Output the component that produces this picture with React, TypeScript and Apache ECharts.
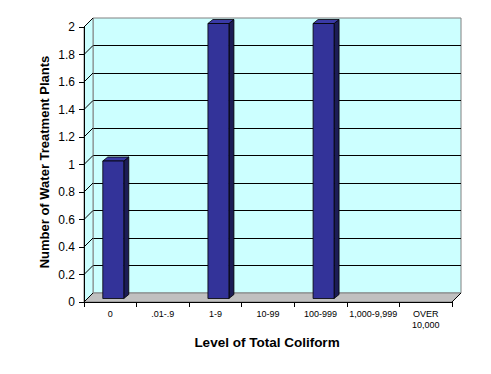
import React, { useEffect, useRef } from "react";
import * as echarts from "echarts";

const categories = ["0", ".01-.9", "1-9", "10-99", "100-999", "1,000-9,999", "OVER\n10,000"];
const plantCounts = [1, 0, 2, 0, 2, 0, 0];
const yTicks = [0, 0.2, 0.4, 0.6, 0.8, 1, 1.2, 1.4, 1.6, 1.8, 2];
const xTitle = "Level of Total Coliform";
const yTitle = "Number of Water Treatment Plants";

const W = 491;
const H = 374;
// front plane
const FL = 84, FT = 27, FR = 452, FB = 302;
// depth offset
const DX = 9, DY = 9;
const FONT = "'Liberation Sans', Arial, sans-serif";

export default function App() {
  const ref = useRef<HTMLDivElement>(null);
  useEffect(() => {
    document.body.style.margin = "0";
    const chart = echarts.init(ref.current!, null, { renderer: "svg" });
    const barData = plantCounts.map((v, i) => [i, v]);
    const tickData = yTicks.map((v) => [0, v]);
    chart.setOption({
      animation: false,
      backgroundColor: "#ffffff",
      grid: [
        { left: FL, top: FT, right: W - FR, bottom: H - FB, show: false },
        {
          left: FL + DX, top: FT - DY, right: W - FR - DX, bottom: H - FB + DY,
          show: true, backgroundColor: "#ccffff", borderColor: "#808080", borderWidth: 1,
        },
      ],
      xAxis: [
        {
          type: "category", gridIndex: 0, data: categories, z: 6,
          axisLine: { show: true, lineStyle: { color: "#000", width: 1 } },
          axisTick: { show: true, length: 5, lineStyle: { color: "#000" } },
          axisLabel: { fontSize: 9, fontFamily: FONT, color: "#000", margin: 6, lineHeight: 11, interval: 0 },
          splitLine: { show: false },
        },
        {
          type: "category", gridIndex: 1, data: categories, show: false,
        },
      ],
      yAxis: [
        {
          type: "value", gridIndex: 0, min: 0, max: 2, interval: 0.2, z: 6,
          axisLine: { show: true, lineStyle: { color: "#000", width: 1 } },
          axisTick: { show: true, length: 5, lineStyle: { color: "#000" } },
          axisLabel: { fontSize: 12, fontFamily: FONT, color: "#000", margin: 9 },
          splitLine: { show: false },
        },
        {
          type: "value", gridIndex: 1, min: 0, max: 2, interval: 0.2,
          axisLine: { show: false }, axisTick: { show: false }, axisLabel: { show: false },
          splitLine: { show: true, showMaxLine: false, lineStyle: { color: "#000", width: 1 } },
        },
      ],
      graphic: [
        {
          type: "polygon", z: 1,
          shape: { points: [[FL, FT], [FL + DX, FT - DY], [FL + DX, FB - DY], [FL, FB]] },
          style: { fill: "#ccffff", stroke: "#808080", lineWidth: 1 },
        },
        {
          type: "polygon", z: 1,
          shape: { points: [[FL, FB], [FL + DX, FB - DY], [FR + DX, FB - DY], [FR, FB]] },
          style: { fill: "#c0c0c0", stroke: "#808080", lineWidth: 1 },
        },
        {
          type: "line", z: 1,
          shape: { x1: FR, y1: FB, x2: FR + DX, y2: FB - DY },
          style: { stroke: "#000", lineWidth: 1 },
        },
        {
          type: "text", x: 267, y: 342, z: 10,
          style: { text: xTitle, font: `bold 13.5px ${FONT}`, fill: "#000", textAlign: "center", textVerticalAlign: "middle" },
        },
        {
          type: "text", x: 44, y: 162, rotation: Math.PI / 2, z: 10,
          style: { text: yTitle, font: `bold 13px ${FONT}`, fill: "#000", textAlign: "center", textVerticalAlign: "middle" },
        },
      ],
      series: [
        {
          type: "custom", xAxisIndex: 0, yAxisIndex: 0, z: 5, silent: true,
          data: tickData,
          renderItem: (params: any, api: any) => {
            const cs = params.coordSys;
            const p = api.coord([0, api.value(1)]);
            return {
              type: "line",
              shape: { x1: cs.x, y1: p[1], x2: cs.x + DX, y2: p[1] - DY },
              style: { stroke: "#000", lineWidth: 1 },
            };
          },
        },
        {
          type: "custom", xAxisIndex: 0, yAxisIndex: 0, z: 10,
          data: barData,
          encode: { x: 0, y: 1 },
          renderItem: (params: any, api: any) => {
            const i = api.value(0);
            const v = api.value(1);
            if (!v) return null;
            const base = api.coord([i, 0]);
            const top = api.coord([i, v]);
            const w = 21;
            const cx = base[0] + 3;
            const x0 = cx - w / 2;
            const x1 = cx + w / 2;
            const yb = base[1] - 3.5;
            const yt = top[1] - 3.5;
            const dx = 5, dy = 4;
            return {
              type: "group",
              children: [
                {
                  type: "polygon",
                  shape: { points: [[x1, yb], [x1, yt], [x1 + dx, yt - dy], [x1 + dx, yb - dy]] },
                  style: { fill: "#1c1c55", stroke: "#000", lineWidth: 0.8 },
                },
                {
                  type: "polygon",
                  shape: { points: [[x0, yt], [x0 + dx, yt - dy], [x1 + dx, yt - dy], [x1, yt]] },
                  style: { fill: "#3a3aa6", stroke: "#000", lineWidth: 0.8 },
                },
                {
                  type: "rect",
                  shape: { x: x0, y: yt, width: w, height: yb - yt },
                  style: { fill: "#333399", stroke: "#000", lineWidth: 0.8 },
                },
              ],
            };
          },
        },
      ],
    });
    return () => chart.dispose();
  }, []);
  return <div ref={ref} style={{ width: W, height: H, position: "absolute", left: 0, top: 0 }} />;
}
